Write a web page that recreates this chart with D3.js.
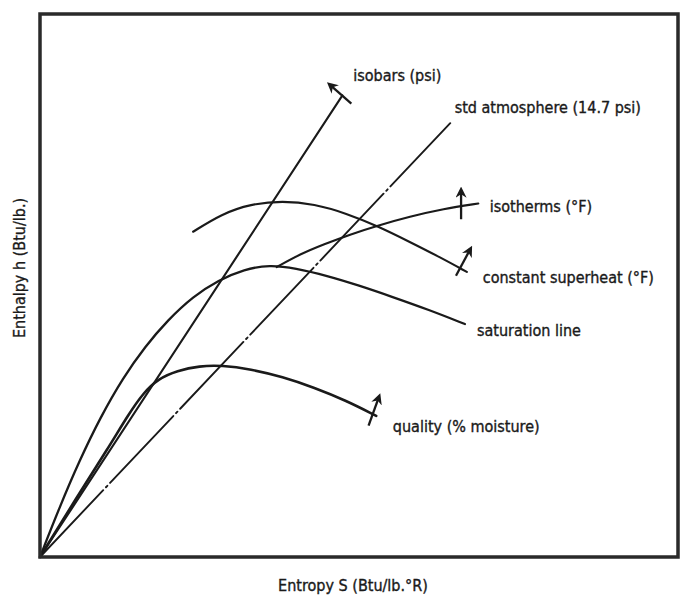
<!DOCTYPE html>
<html>
<head>
<meta charset="utf-8">
<script src="https://cdn.jsdelivr.net/npm/d3@7"></script>
<style>
    html, body { margin: 0; padding: 0; background: #fff; }
    svg text {
        font-family: "Liberation Sans Narrow", "DejaVu Sans Condensed", "Arial Narrow", sans-serif;
        font-stretch: condensed;
        fill: #1a1a1a;
        stroke: #1a1a1a;
        stroke-width: 0.35px;
    }
</style>
</head>
<body>
<svg id="chart-mollier" width="681" height="596"></svg>
<script>
// Mollier-Diagramm (h-S), schematisch, Werte aus Bild abgelesen
// S = Entropie (willkuerliche Einheiten), h = Enthalpie

const S_DOMAIN = [0, 10];
const H_DOMAIN = [0, 10];

// Isobare (gerade Linie vom Ursprung)
const isobarS = [0, 4.74];
const isobarH = [0, 8.5];

// Standardatmosphaere 14.7 psi (strich-punkt)
const stdAtmS = [0, 6.43];
const stdAtmH = [0, 7.99];

// Saettigungslinie
const saturationS = [0, 0.30, 0.62, 0.95, 1.30, 1.65, 2.00, 2.40, 2.80, 3.20, 3.60, 4.00, 4.50, 5.00, 5.50, 6.10, 6.66];
const saturationH = [0, 0.90, 1.78, 2.58, 3.30, 3.88, 4.36, 4.80, 5.10, 5.30, 5.38, 5.32, 5.18, 5.00, 4.80, 4.55, 4.29];

// Dampfgehalt (quality)
const qualityS = [0, 0.55, 1.07, 1.40, 1.62, 1.85, 2.15, 2.50, 2.85, 3.30, 3.80, 4.30, 4.80, 5.27];
const qualityH = [0, 1.05, 2.01, 2.65, 3.02, 3.28, 3.43, 3.52, 3.53, 3.46, 3.32, 3.12, 2.88, 2.60];

// konstante Ueberhitzung
const superheatS = [2.40, 2.85, 3.30, 3.80, 4.30, 4.80, 5.30, 5.80, 6.27, 6.69];
const superheatH = [5.99, 6.32, 6.50, 6.56, 6.50, 6.33, 6.09, 5.80, 5.52, 5.25];

// Isotherme (ueberhitzter Bereich)
const isothermS = [3.71, 4.08, 4.45, 4.86, 5.28, 5.80, 6.32, 6.87];
const isothermH = [5.34, 5.58, 5.76, 5.94, 6.10, 6.27, 6.41, 6.51];

// Richtungspfeile: [S0, h0, S1, h1]
const arrowMarks = [
    [4.88, 8.35, 4.55, 8.69],   // isobars
    [6.60, 6.22, 6.60, 6.74],   // isotherms
    [6.52, 5.18, 6.74, 5.66],   // constant superheat
    [5.15, 2.42, 5.31, 2.94]    // quality
];

// Beschriftungen: Text, S, h (linke Grundlinie)
const labelTexts = ['isobars (psi)', 'std atmosphere (14.7 psi)', 'isotherms (°F)',
    'constant superheat (°F)', 'saturation line', 'quality (% moisture)'];
const labelS = [4.91, 6.50, 7.05, 6.94, 6.85, 5.53];
const labelH = [8.77, 8.18, 6.35, 5.05, 4.07, 2.30];

const xLabel = 'Entropy S (Btu/lb.°R)';
const yLabel = 'Enthalpy h (Btu/lb.)';

function zipPoints(xs, ys) {
    return xs.map((s, i) => [s, ys[i]]);
}

function drawMollier() {
    const svg = d3.select('#chart-mollier');
    svg.selectAll('*').remove();

    const margin = { top: 14, right: 3, bottom: 39, left: 40 };
    const width = 681 - margin.left - margin.right;
    const height = 596 - margin.top - margin.bottom;

    // Pfeilspitze
    svg.append('defs').append('marker')
        .attr('id', 'arrowhead')
        .attr('viewBox', '0 0 10 10')
        .attr('refX', 6)
        .attr('refY', 5)
        .attr('markerWidth', 4.8)
        .attr('markerHeight', 4.8)
        .attr('markerUnits', 'strokeWidth')
        .attr('orient', 'auto')
        .append('path')
        .attr('d', 'M0,0 L10,5 L0,10 L3,5 Z')
        .style('fill', '#1a1a1a');

    const g = svg.append('g')
        .attr('transform', `translate(${margin.left},${margin.top})`);

    const xScale = d3.scaleLinear().domain(S_DOMAIN).range([0, width]);
    const yScale = d3.scaleLinear().domain(H_DOMAIN).range([height, 0]);

    const smooth = d3.line()
        .x(d => xScale(d[0]))
        .y(d => yScale(d[1]))
        .curve(d3.curveBasis);

    const straight = d3.line()
        .x(d => xScale(d[0]))
        .y(d => yScale(d[1]));

    const curves = [
        { pts: zipPoints(saturationS, saturationH), fn: smooth, w: 2.3 },
        { pts: zipPoints(qualityS, qualityH), fn: smooth, w: 2.6 },
        { pts: zipPoints(superheatS, superheatH), fn: smooth, w: 2.1 },
        { pts: zipPoints(isothermS, isothermH), fn: smooth, w: 2.1 },
        { pts: zipPoints(isobarS, isobarH), fn: straight, w: 2.1 }
    ];

    curves.forEach(c => {
        g.append('path')
            .datum(c.pts)
            .attr('d', c.fn)
            .style('fill', 'none')
            .style('stroke', '#1a1a1a')
            .style('stroke-width', c.w)
            .style('stroke-linecap', 'round');
    });

    // Standardatmosphaere strich-punkt
    g.append('path')
        .datum(zipPoints(stdAtmS, stdAtmH))
        .attr('d', straight)
        .style('fill', 'none')
        .style('stroke', '#1a1a1a')
        .style('stroke-width', 1.9)
        .style('stroke-dasharray', '92 4 2 4')
        .style('stroke-linecap', 'round');

    // Richtungspfeile
    arrowMarks.forEach(a => {
        g.append('line')
            .attr('x1', xScale(a[0]))
            .attr('y1', yScale(a[1]))
            .attr('x2', xScale(a[2]))
            .attr('y2', yScale(a[3]))
            .style('stroke', '#1a1a1a')
            .style('stroke-width', 2.3)
            .attr('marker-end', 'url(#arrowhead)');
    });

    // Beschriftungen
    labelTexts.forEach((t, i) => {
        g.append('text')
            .attr('x', xScale(labelS[i]))
            .attr('y', yScale(labelH[i]))
            .style('font-size', '16px')
            .text(t);
    });

    // Rahmen
    g.append('rect')
        .attr('x', 0)
        .attr('y', 0)
        .attr('width', width)
        .attr('height', height)
        .style('fill', 'none')
        .style('stroke', '#2a2a2a')
        .style('stroke-width', 3.5);

    // Achsen-Label
    g.append('text')
        .attr('x', width / 2 - 6)
        .attr('y', height + 34)
        .attr('text-anchor', 'middle')
        .style('font-size', '16px')
        .text(xLabel);

    g.append('text')
        .attr('transform', 'rotate(-90)')
        .attr('x', -254)
        .attr('y', -15)
        .attr('text-anchor', 'middle')
        .style('font-size', '16px')
        .text(yLabel);
}

drawMollier();
</script>
</body>
</html>
